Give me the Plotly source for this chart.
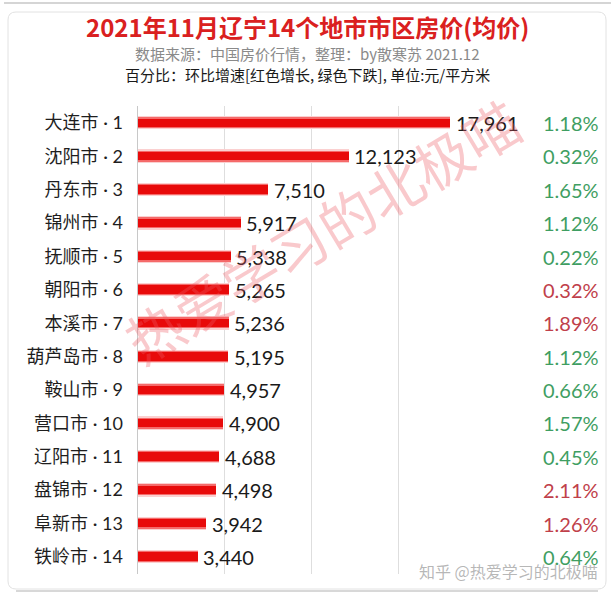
import plotly.graph_objects as go

W, H = 615, 595

cities = ["大连市", "沈阳市", "丹东市", "锦州市", "抚顺市", "朝阳市", "本溪市",
          "葫芦岛市", "鞍山市", "营口市", "辽阳市", "盘锦市", "阜新市", "铁岭市"]
prices = [17961, 12123, 7510, 5917, 5338, 5265, 5236, 5195, 4957, 4900, 4688, 4498, 3942, 3440]
changes = ["1.18%", "0.32%", "1.65%", "1.12%", "0.22%", "0.32%", "1.89%",
           "1.12%", "0.66%", "1.57%", "0.45%", "2.11%", "1.26%", "0.64%"]
change_up = [False, False, False, False, False, True, True,
             False, False, False, False, True, True, False]

labels = [f"{c} · {i+1}" for i, c in enumerate(cities)]

title = "2021年11月辽宁14个地市市区房价(均价)"
subtitle = "数据来源：中国房价行情，整理：by散寒苏 2021.12"
note = "百分比：环比增速[红色增长, 绿色下跌], 单位:元/平方米"
watermark = "热爱学习的北极喵"
footer = "知乎 @热爱学习的北极喵"

FONT = "Lato, 'Noto Sans CJK SC', sans-serif"
CJK = "'Noto Sans CJK SC', sans-serif"

def px(x):
    return x / W

def py(y):
    return 1 - y / H

fig = go.Figure()

for width, color in [(0.40, "#fbd0d0"), (0.33, "#f56a6a"), (0.25, "#e80a0a")]:
    fig.add_trace(go.Bar(
        x=prices, y=labels, orientation="h", width=width,
        marker=dict(color=color, line=dict(width=0)),
        hoverinfo="skip", showlegend=False,
    ))

annotations = []
for lab, v in zip(labels, prices):
    annotations.append(dict(
        x=v, y=lab, xref="x", yref="y", text=f"{v:,}", showarrow=False,
        xanchor="left", xshift=4, font=dict(family=FONT, size=20, color="#1a1a1a"),
    ))
for lab, c, up in zip(labels, changes, change_up):
    annotations.append(dict(
        x=px(601), y=lab, xref="paper", yref="y", text=c, showarrow=False,
        xanchor="right", font=dict(family=FONT, size=20, color="#c0404a" if up else "#3f9e62"),
    ))

annotations += [
    dict(x=0.5, y=py(27), xref="paper", yref="paper", text=f"<b>{title}</b>", showarrow=False,
         xanchor="center", yanchor="middle", font=dict(family=CJK, size=24, color="#da2020")),
    dict(x=0.5, y=py(53), xref="paper", yref="paper", text=subtitle, showarrow=False,
         xanchor="center", yanchor="middle", font=dict(family=CJK, size=15, color="#8a8a8a")),
    dict(x=0.5, y=py(74), xref="paper", yref="paper", text=note, showarrow=False,
         xanchor="center", yanchor="middle", font=dict(family=CJK, size=15, color="#1a1a1a")),
    dict(x=px(322), y=py(230), xref="paper", yref="paper", text=watermark, showarrow=False,
         textangle=-31, xanchor="center", yanchor="middle",
         font=dict(family=CJK, size=56, color="rgba(238,90,100,0.33)")),
    dict(x=px(600), y=py(571), xref="paper", yref="paper", text=footer, showarrow=False,
         xanchor="right", yanchor="middle",
         font=dict(family=CJK, size=16, color="rgba(160,160,160,0.75)")),
]

# card frame (rounded rectangle)
x0, x1, y0, y1, r = 8, 606, 12, 589, 8
def P(x, y):
    return f"{px(x):.5f},{py(y):.5f}"
path = (f"M {P(x0+r, y0)} L {P(x1-r, y0)} Q {P(x1, y0)} {P(x1, y0+r)} "
        f"L {P(x1, y1-r)} Q {P(x1, y1)} {P(x1-r, y1)} L {P(x0+r, y1)} "
        f"Q {P(x0, y1)} {P(x0, y1-r)} L {P(x0, y0+r)} Q {P(x0, y0)} {P(x0+r, y0)} Z")
shapes = [
    dict(type="path", path=f"M {P(x0+r, y1+2)} L {P(x1-r, y1+2)}", xref="paper", yref="paper",
         line=dict(color="#d8d8d8", width=2), layer="below"),
    dict(type="path", path=path, xref="paper", yref="paper",
         line=dict(color="#e2e2e2", width=1), fillcolor="white", layer="below"),
    dict(type="line", x0=px(4), x1=px(611), y0=py(3), y1=py(3), xref="paper", yref="paper",
         line=dict(color="#d5d5d5", width=2), layer="below"),
]

fig.update_layout(
    width=W, height=H, autosize=False,
    margin=dict(l=0, r=0, t=0, b=0),
    paper_bgcolor="white", plot_bgcolor="rgba(0,0,0,0)",
    barmode="overlay", bargap=0,
    showlegend=False,
    annotations=annotations, shapes=shapes,
    xaxis=dict(domain=[px(137.5), px(485)], range=[0, 20000], dtick=5000,
               showgrid=True, gridcolor="#dedede", gridwidth=1,
               showticklabels=False, zeroline=False, showline=False, ticks=""),
    yaxis=dict(domain=[py(573.6), py(106.3)], autorange=False, range=[13.5, -0.5],
               categoryorder="array", categoryarray=labels,
               showgrid=False, showline=True, linecolor="#c8c8c8", linewidth=1,
               ticks="", ticklabelstandoff=10,
               tickfont=dict(family=FONT, size=18, color="#1e1e1e")),
)

fig.write_html("out.html", config={"displayModeBar": False},
               post_script="document.body.style.margin='0';document.body.style.overflow='hidden';")
